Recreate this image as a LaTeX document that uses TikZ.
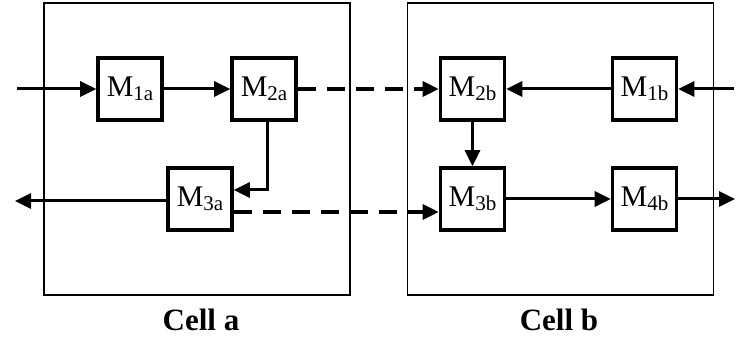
\documentclass[tikz,border=0pt]{standalone}
\usepackage{fontspec}
\setmainfont{Liberation Serif}
\usetikzlibrary{arrows.meta}
\newcommand{\Mlab}[1]{M\raisebox{-4pt}{\fontsize{21}{21}\selectfont #1}}
\begin{document}
\begin{tikzpicture}[x=1pt,y=-1pt,
  mbox/.style={draw, line width=3.6pt, minimum width=64pt, minimum height=62pt, inner sep=0pt, font=\fontsize{30}{30}\selectfont},
  cellbox/.style={draw, line width=1.5pt, minimum width=306pt, minimum height=292pt, inner sep=0pt},
  conn/.style={line width=3pt, -{Triangle[length=16pt,width=15pt]}},
  dconn/.style={conn, line width=3.4pt, dash pattern=on 18pt off 11pt},
  celllab/.style={font=\fontsize{31}{31}\selectfont\bfseries}]
\useasboundingbox (0,0) rectangle (748,344);
\node[cellbox] (cella) at (197,149) {};
\node[cellbox] (cellb) at (560.5,149) {};
\node[celllab] (laba) at (201,320) {Cell a};
\node[celllab] (labb) at (559,320) {Cell b};
\node[mbox] (m1a) at (130,89) {\Mlab{1a}};
\node[mbox] (m2a) at (264,89) {\Mlab{2a}};
\node[mbox] (m3a) at (200,199) {\Mlab{3a}};
\node[mbox] (m2b) at (472.5,89) {\Mlab{2b}};
\node[mbox] (m1b) at (644.5,89) {\Mlab{1b}};
\node[mbox] (m3b) at (472.5,199) {\Mlab{3b}};
\node[mbox] (m4b) at (644.5,199) {\Mlab{4b}};
\coordinate (ina) at (17,89);
\coordinate (outa) at (15,201);
\coordinate (inb) at (734,89);
\coordinate (outb) at (735,199);
\draw[conn] (ina) -- (m1a.west);
\draw[conn] (m1a) -- (m2a);
\draw[conn] ([xshift=3pt]m2a.south) |- ([yshift=9pt]m3a.east);
\draw[conn] ([yshift=-2pt]m3a.west) -- (outa);
\draw[dconn] (m2a) -- (m2b);
\draw[dconn] ([yshift=-13pt]m3a.east) -- ([yshift=-13pt]m3b.west);
\draw[conn] (inb) -- (m1b.east);
\draw[conn] (m1b) -- (m2b);
\draw[conn] (m2b) -- (m3b);
\draw[conn] (m3b) -- (m4b);
\draw[conn] (m4b.east) -- (outb);
\end{tikzpicture}
\end{document}
